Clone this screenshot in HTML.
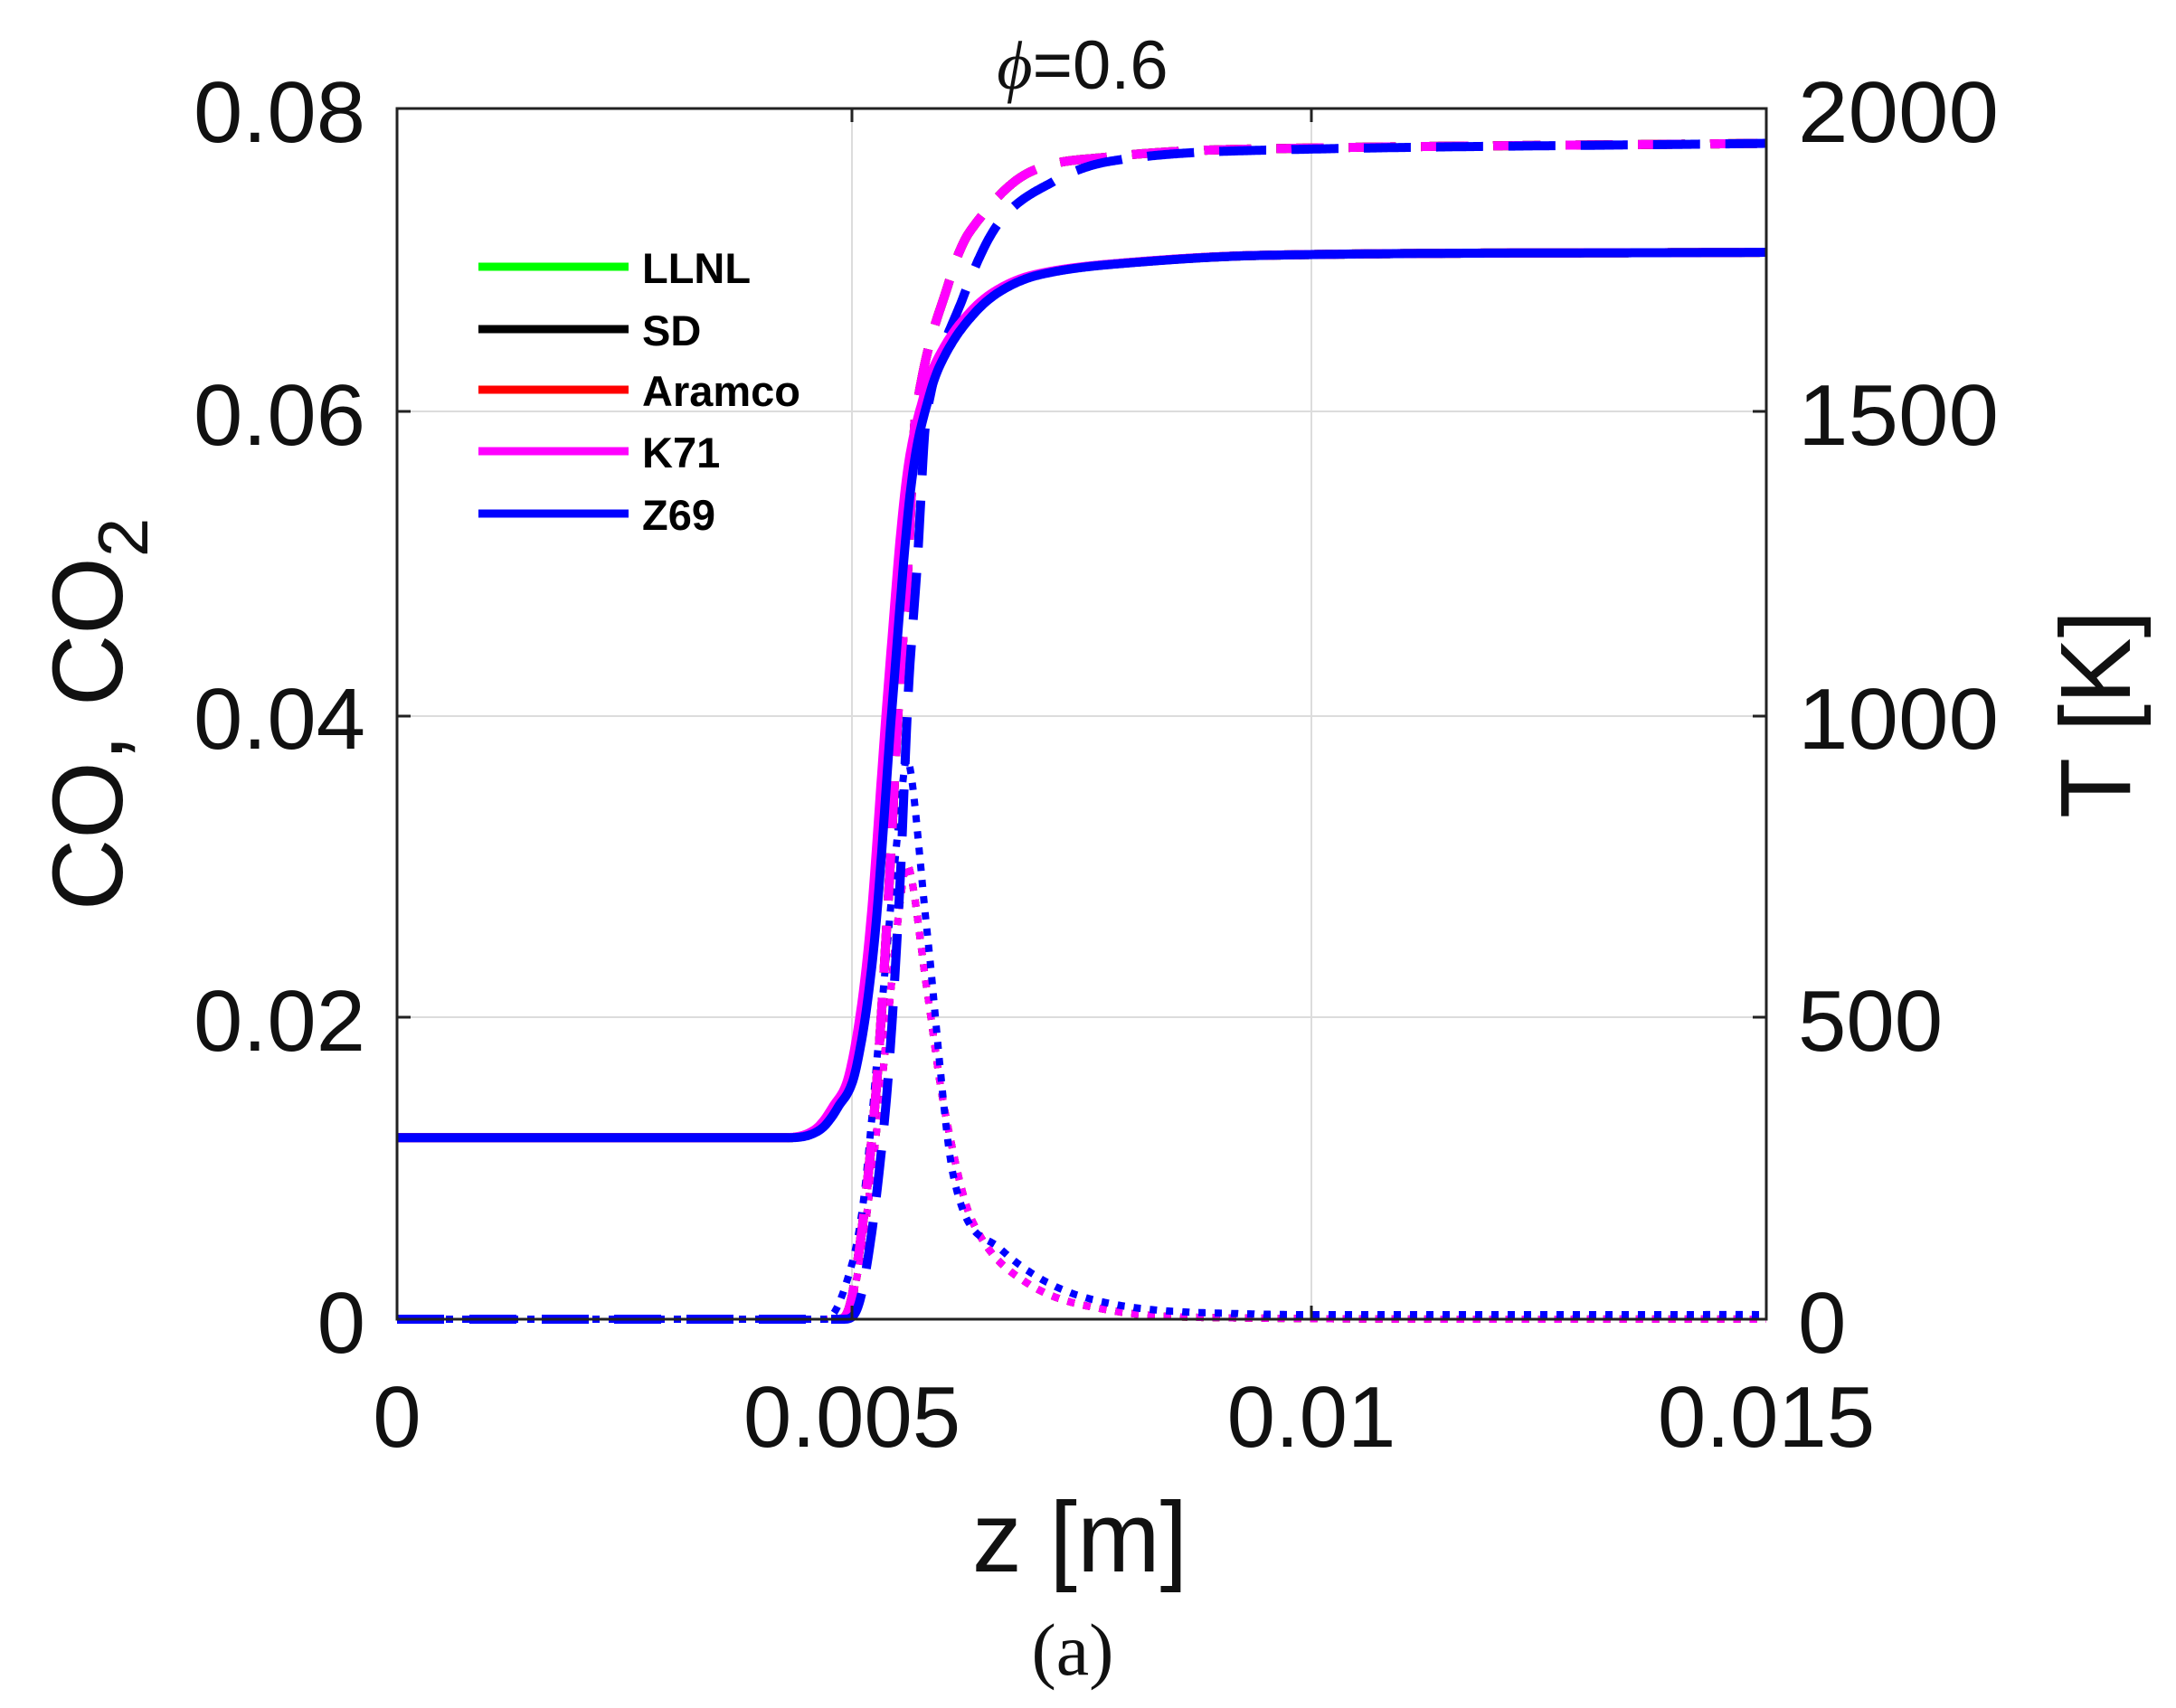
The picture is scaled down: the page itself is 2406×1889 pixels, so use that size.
<!DOCTYPE html>
<html><head><meta charset="utf-8"><style>
html,body{margin:0;padding:0;background:#fff;}
svg{display:block;}
</style></head><body>
<svg id="s" width="2406" height="1889" viewBox="0 0 2406 1889" xmlns="http://www.w3.org/2000/svg" font-family="Liberation Sans, sans-serif">
<rect width="2406" height="1889" fill="#fff"/>
<g stroke="#dcdcdc" stroke-width="2">
<line x1="942" y1="120" x2="942" y2="1459"/>
<line x1="1450" y1="120" x2="1450" y2="1459"/>
<line x1="439" y1="455" x2="1953" y2="455"/>
<line x1="439" y1="792" x2="1953" y2="792"/>
<line x1="439" y1="1125" x2="1953" y2="1125"/>
</g>
<g id="curves" fill="none" stroke-linejoin="round"></g>
<rect x="439" y="120" width="1514" height="1339" fill="none" stroke="#222" stroke-width="3"/>
<g stroke="#222" stroke-width="3">
<line x1="942" y1="120" x2="942" y2="135"/><line x1="1450" y1="120" x2="1450" y2="135"/>
<line x1="942" y1="1459" x2="942" y2="1444"/><line x1="1450" y1="1459" x2="1450" y2="1444"/>
<line x1="439" y1="455" x2="454" y2="455"/><line x1="439" y1="792" x2="454" y2="792"/><line x1="439" y1="1125" x2="454" y2="1125"/>
<line x1="1953" y1="455" x2="1938" y2="455"/><line x1="1953" y1="792" x2="1938" y2="792"/><line x1="1953" y1="1125" x2="1938" y2="1125"/>
</g>
<g font-size="96" fill="#111" text-anchor="end">
<text x="404" y="157" textLength="190" lengthAdjust="spacingAndGlyphs">0.08</text>
<text x="404" y="492" textLength="190" lengthAdjust="spacingAndGlyphs">0.06</text>
<text x="404" y="828" textLength="190" lengthAdjust="spacingAndGlyphs">0.04</text>
<text x="404" y="1162" textLength="190" lengthAdjust="spacingAndGlyphs">0.02</text>
<text x="404" y="1496">0</text>
</g>
<g font-size="96" fill="#111" text-anchor="start">
<text x="1988" y="157" textLength="222" lengthAdjust="spacingAndGlyphs">2000</text>
<text x="1988" y="492" textLength="222" lengthAdjust="spacingAndGlyphs">1500</text>
<text x="1988" y="828" textLength="222" lengthAdjust="spacingAndGlyphs">1000</text>
<text x="1988" y="1162">500</text>
<text x="1988" y="1496">0</text>
</g>
<g font-size="96" fill="#111" text-anchor="middle">
<text x="439" y="1600">0</text>
<text x="942" y="1600">0.005</text>
<text x="1450" y="1600">0.01</text>
<text x="1953" y="1600">0.015</text>
</g>
<text x="1194" y="1738" font-size="110" text-anchor="middle" fill="#111">z [m]</text>
<text x="1186" y="1852" font-size="82" text-anchor="middle" fill="#111" font-family="Liberation Serif, serif">(a)</text>
<text x="1197" y="98" font-size="76" text-anchor="middle" fill="#111"><tspan font-style="italic" font-family="Liberation Serif, serif">ϕ</tspan>=0.6</text>
<text transform="translate(135,790) rotate(-90)" font-size="110" text-anchor="middle" fill="#111">CO, CO<tspan font-size="78" dy="28">2</tspan></text>
<text transform="translate(2355,790) rotate(-90)" font-size="110" text-anchor="middle" fill="#111">T [K]</text>
<g stroke-width="9">
<line x1="529" y1="295" x2="695" y2="295" stroke="#00ff00"/>
<line x1="529" y1="364" x2="695" y2="364" stroke="#000"/>
<line x1="529" y1="431" x2="695" y2="431" stroke="#ff0000"/>
<line x1="529" y1="499" x2="695" y2="499" stroke="#ff00ff"/>
<line x1="529" y1="568" x2="695" y2="568" stroke="#0000ff"/>
</g>
<g font-size="47" font-weight="bold" fill="#000">
<text x="710" y="313">LLNL</text>
<text x="710" y="382">SD</text>
<text x="710" y="449">Aramco</text>
<text x="710" y="517">K71</text>
<text x="710" y="586">Z69</text>
</g>
</svg>
<script>
(function(){
var X=function(z){return 439+z/0.015*1514;},Y=function(v){return 1459-v/0.08*1339;};
function interp(pts,z){if(z<=pts[0][0])return pts[0][1];for(var i=1;i<pts.length;i++){if(z<=pts[i][0]){var a=pts[i-1],b=pts[i];var t=(z-a[0])/(b[0]-a[0]);var p0=pts[Math.max(i-2,0)],p3=pts[Math.min(i+1,pts.length-1)];
var m1=(b[1]-p0[1])/(b[0]-p0[0])*(b[0]-a[0]),m2=(p3[1]-a[1])/(p3[0]-a[0])*(b[0]-a[0]);
var h00=2*t*t*t-3*t*t+1,h10=t*t*t-2*t*t+t,h01=-2*t*t*t+3*t*t,h11=t*t*t-t*t;var r=h00*a[1]+h10*m1+h01*b[1]+h11*m2;
var lo=Math.min(a[1],b[1]),hi=Math.max(a[1],b[1]);return Math.max(lo,Math.min(hi,r));}}return pts[pts.length-1][1];}
function path(pts,sh){var d="";for(var i=0;i<=1500;i++){var z=0.015*i/1500;var v=interp(pts,z-sh);d+=(i?"L":"M")+X(z).toFixed(1)+","+Y(v).toFixed(1);}return d;}
var T=[[0,0.012],[0.0043,0.012],[0.0046,0.0125],[0.0048,0.014],[0.005,0.0166],[0.0052,0.025],[0.0054,0.041],[0.0056,0.055],[0.0058,0.061],[0.006,0.064],[0.0063,0.0665],[0.0066,0.068],[0.007,0.069],[0.0078,0.0697],[0.0095,0.0703],[0.015,0.0705]];
var C2=[[0,0],[0.00485,0],[0.005,0.002],[0.00523,0.0138],[0.00538,0.0276],[0.0055,0.0413],[0.0056,0.05],[0.00568,0.0597],[0.00606,0.0688],[0.00629,0.072],[0.0069,0.0757],[0.0078,0.0768],[0.0092,0.0773],[0.015,0.0777]];
var C2b=[[0,0],[0.0049,0],[0.0051,0.002],[0.00535,0.0138],[0.0055,0.0276],[0.0056,0.0413],[0.0057,0.05],[0.0058,0.0597],[0.0062,0.0675],[0.0066,0.0725],[0.0072,0.0752],[0.0078,0.0765],[0.0092,0.0772],[0.015,0.0777]];
var CO=[[0,0],[0.0049,0],[0.0051,0.005],[0.0053,0.015],[0.0055,0.027],[0.0056,0.030],[0.0058,0.022],[0.006,0.0138],[0.0063,0.0065],[0.0069,0.0024],[0.0078,0.0006],[0.009,0.0001],[0.015,0]];
var COb=[[0,0],[0.0047,0],[0.0049,0.002],[0.0051,0.0074],[0.0053,0.02],[0.0055,0.033],[0.0056,0.037],[0.0058,0.026],[0.0061,0.0093],[0.0066,0.0047],[0.0075,0.0015],[0.009,0.0004],[0.015,0.0003]];
var g=document.getElementById("curves");
function add(d,c,w,da){var p=document.createElementNS("http://www.w3.org/2000/svg","path");p.setAttribute("d",d);p.setAttribute("stroke",c);p.setAttribute("stroke-width",w);if(da)p.setAttribute("stroke-dasharray",da);g.appendChild(p);}
var cols=["#00ff00","#000000","#ff0000","#ff00ff"];
cols.forEach(function(c,i){add(path(CO,0),c,8,"8 10");});
add(path(COb,0),"#0000ff",8,"8 10");
cols.forEach(function(c,i){add(path(C2,0),c,10,"52 28");});
add(path(C2b,0),"#0000ff",10,"52 28");
cols.forEach(function(c,i){add(path(T,-0.00003*(i==3?1:0)),c,10);});
add(path(T,0.00003),"#0000ff",10);
})();
</script>
</body></html>
